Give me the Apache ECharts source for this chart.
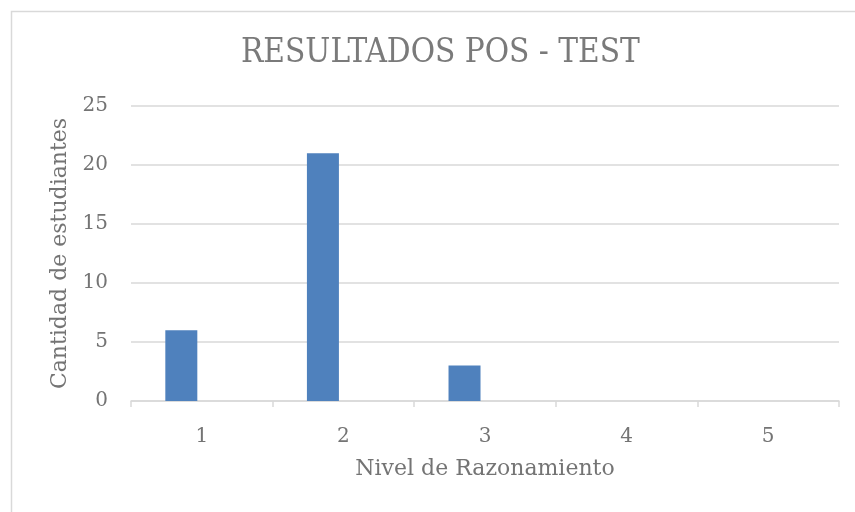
<!DOCTYPE html>
<html>
<head>
<meta charset="utf-8">
<script src="https://cdn.jsdelivr.net/npm/echarts@6/dist/echarts.min.js"></script>
<style>html,body{margin:0;padding:0;background:#fff}#c{width:855px;height:512px}</style>
</head>
<body>
<div id="c"></div>
<script>
const titleText = "RESULTADOS POS - TEST";
const categories = ["1", "2", "3", "4", "5"];
const seriesValues = [6, 21, 3, 0, 0];
const emptySeries = [null, null, null, null, null];
const xAxisName = "Nivel de Razonamiento";
const yAxisName = "Cantidad de estudiantes";
const yMin = 0, yMax = 25, yStep = 5;

const serif = "'DejaVu Serif', serif";
const textColor = '#747474';
const chart = echarts.init(document.getElementById('c'), null, {renderer: 'canvas'});
chart.setOption({
  animation: false,
  backgroundColor: '#fff',
  graphic: [{
    type: 'rect', left: 9, top: 9, silent: true,
    shape: {width: 900, height: 600},
    style: {fill: 'none', stroke: '#d9d9d9', lineWidth: 1.5}
  }],
  title: {
    text: titleText, left: 236, top: 32,
    textStyle: {fontFamily: "'DejaVu Serif Condensed', 'DejaVu Serif', serif", fontWeight: 'normal', fontSize: 33, color: '#7a7a7a'}
  },
  grid: {left: 131, right: 16, top: 106, bottom: 111},
  xAxis: {
    type: 'category', data: categories,
    name: xAxisName, nameLocation: 'middle', nameGap: 57,
    nameTextStyle: {fontFamily: serif, fontSize: 22, color: textColor},
    axisLine: {show: true, lineStyle: {color: '#d9d9d9', width: 1.5}},
    axisTick: {show: true, alignWithLabel: false, length: 6, lineStyle: {color: '#d9d9d9', width: 1.5}},
    axisLabel: {fontFamily: serif, fontSize: 20, color: textColor, margin: 26}
  },
  yAxis: {
    type: 'value', min: yMin, max: yMax, interval: yStep,
    name: yAxisName, nameLocation: 'middle', nameGap: 57,
    nameTextStyle: {fontFamily: serif, fontSize: 22, color: textColor},
    axisLine: {show: false}, axisTick: {show: false},
    splitLine: {lineStyle: {color: '#d9d9d9', width: 1.5}},
    axisLabel: {fontFamily: serif, fontSize: 20, color: textColor, margin: 23}
  },
  series: [
    {type: 'bar', data: seriesValues, barWidth: 32, barGap: '28%', barCategoryGap: '48%',
     itemStyle: {color: '#4f81bd', borderWidth: 0}},
    {type: 'bar', data: emptySeries, barWidth: 32,
     itemStyle: {color: '#c0504d'}}
  ]
});
</script>
</body>
</html>
